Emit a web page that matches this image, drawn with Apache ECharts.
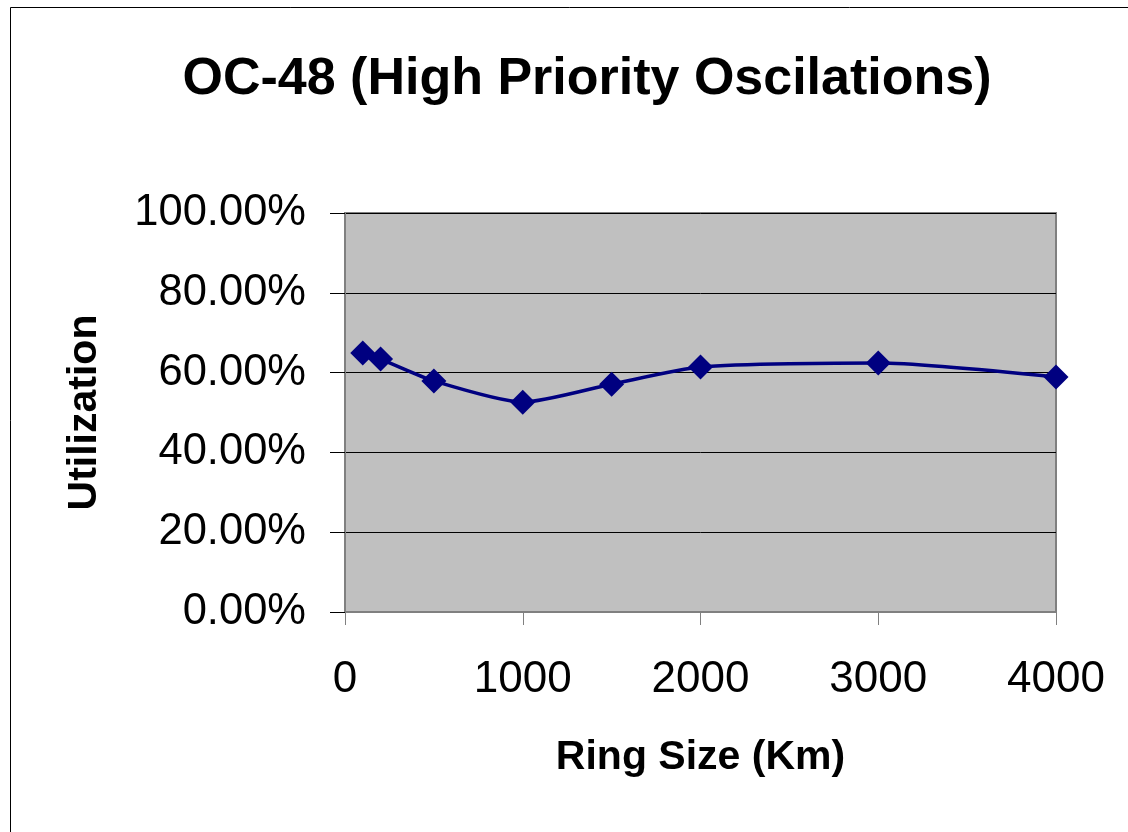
<!DOCTYPE html>
<html>
<head>
<meta charset="utf-8">
<script src="https://cdn.jsdelivr.net/npm/echarts@6/dist/echarts.min.js"></script>
<style>
html,body{margin:0;padding:0;background:#fff;}
#chart{width:1128px;height:832px;}
</style>
</head>
<body>
<div id="chart"></div>
<script>
const titleText = "OC-48 (High Priority Oscilations)";
const xAxisName = "Ring Size (Km)";
const yAxisName = "Utilization";
const ringSizes = [100, 200, 500, 1000, 1500, 2000, 3000, 4000];
const utilization = [0.649, 0.634, 0.579, 0.526, 0.571, 0.614, 0.624, 0.589];

const chart = echarts.init(document.getElementById('chart'), null, {renderer: 'canvas'});
const font = 'Liberation Sans, Arial, sans-serif';
chart.setOption({
  animation: false,
  backgroundColor: '#ffffff',
  title: {
    text: titleText,
    left: 582, top: 49, textAlign: 'center',
    textStyle: {fontFamily: font, fontSize: 52, fontWeight: 'bold', color: '#000'}
  },
  graphic: [{
    type: 'rect', silent: true,
    shape: {x: 10.5, y: 7.5, width: 1300, height: 1000},
    style: {fill: 'none', stroke: '#000', lineWidth: 1}
  }],
  grid: {
    left: 345, top: 213, right: 72, bottom: 220,
    show: true, backgroundColor: '#c0c0c0', borderColor: '#808080', borderWidth: 2
  },
  xAxis: {
    type: 'value', min: 0, max: 4000, interval: 1000,
    name: xAxisName, nameLocation: 'middle', nameGap: 125,
    nameTextStyle: {fontFamily: font, fontSize: 41, fontWeight: 'bold', color: '#000'},
    axisLine: {show: true, lineStyle: {color: '#808080', width: 2}},
    axisTick: {show: true, length: 13, lineStyle: {color: '#808080', width: 1}},
    axisLabel: {fontFamily: font, fontSize: 44, color: '#000', margin: 46,
      formatter: v => String(v)},
    splitLine: {show: false}
  },
  yAxis: {
    type: 'value', min: 0, max: 1, interval: 0.2,
    name: yAxisName, nameLocation: 'middle', nameGap: 240,
    nameTextStyle: {fontFamily: font, fontSize: 41, fontWeight: 'bold', color: '#000'},
    axisLine: {show: true, lineStyle: {color: '#808080', width: 2}},
    axisTick: {show: true, length: 15, lineStyle: {color: '#000', width: 1}},
    axisLabel: {fontFamily: font, fontSize: 43.5, color: '#000', margin: 39,
      formatter: v => (v * 100).toFixed(2) + '%'},
    splitLine: {show: true, lineStyle: {color: '#000', width: 1}}
  },
  series: [{
    type: 'line',
    data: ringSizes.map((x, i) => [x, utilization[i]]),
    smooth: 0.22,
    symbol: 'diamond', symbolSize: 25,
    lineStyle: {color: '#000080', width: 3.5},
    itemStyle: {color: '#000080'}
  }]
});
</script>
</body>
</html>
